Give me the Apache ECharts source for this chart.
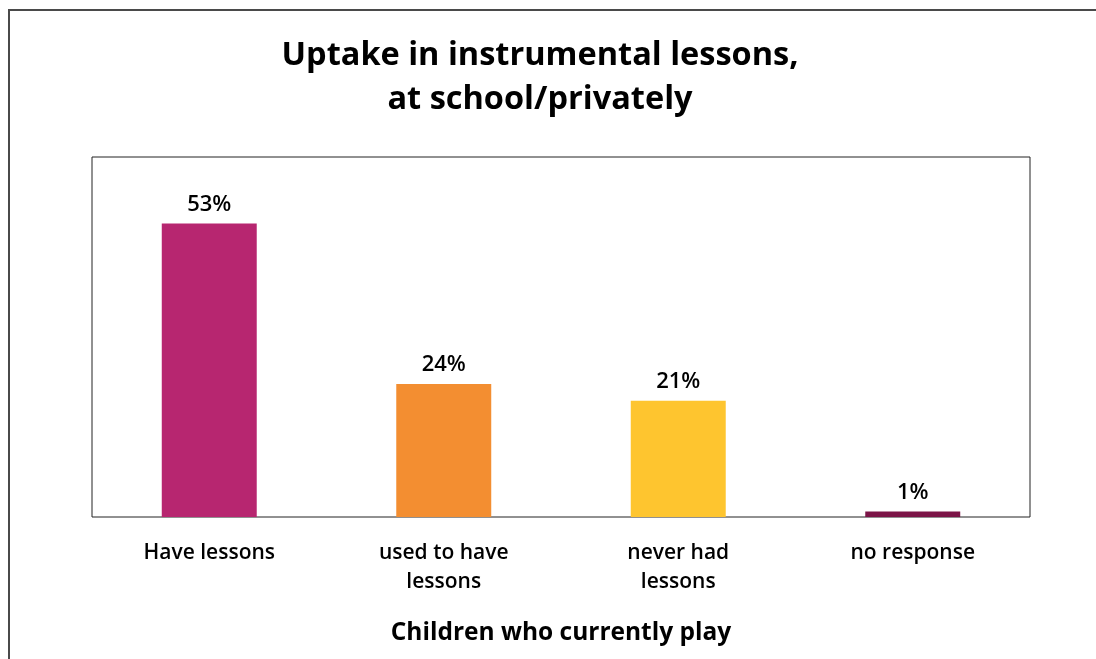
<!DOCTYPE html>
<html><head><meta charset="utf-8">
<script src="https://cdn.jsdelivr.net/npm/echarts@6/dist/echarts.min.js"></script>
<style>html,body{margin:0;padding:0;background:#fff}#c{width:1096px;height:659px}</style>
</head><body><div id="c"></div>
<script>
const categories = ['Have lessons', 'used to have\nlessons', 'never had\nlessons', 'no response'];
const values = [53, 24, 21, 1];
const barColors = ['#B72670', '#F38E31', '#FEC52F', '#7B1447'];
const titleText = 'Uptake in instrumental lessons,\nat school/privately';
const axisTitle = 'Children who currently play';

const chart = echarts.init(document.getElementById('c'), null, {renderer: 'canvas'});
const FONT = 'Open Sans';
chart.setOption({
  animation: false,
  backgroundColor: '#fff',
  title: {
    text: titleText, left: 535, top: 29, textAlign: 'center',
    textStyle: {fontFamily: FONT, fontWeight: 'bold', fontSize: 32.5, color: '#000', lineHeight: 44}
  },
  grid: {left: 92, right: 66, top: 157, bottom: 142, show: true, borderColor: '#222', borderWidth: 1, backgroundColor: 'transparent'},
  xAxis: {
    type: 'category', data: categories,
    name: axisTitle, nameLocation: 'middle', nameGap: 104,
    nameTextStyle: {fontFamily: FONT, fontWeight: 'bold', fontSize: 24.5, color: '#000'},
    axisLine: {show: false}, axisTick: {show: false},
    axisLabel: {fontFamily: FONT, fontWeight: 600, fontSize: 21, color: '#000', margin: 22, lineHeight: 29}
  },
  yAxis: {type: 'value', min: 0, max: 65, show: false, splitLine: {show: false}},
  series: [{
    type: 'bar', barWidth: '40.5%',
    data: values.map((v, i) => ({value: v, itemStyle: {color: barColors[i]}})),
    label: {show: true, position: 'top', distance: 8, formatter: '{c}%',
      fontFamily: FONT, fontWeight: 600, fontSize: 22, color: '#000'}
  }],
  graphic: [{
    type: 'rect', shape: {x: 9, y: 10, width: 1200, height: 800},
    style: {fill: 'none', stroke: '#4a4a4a', lineWidth: 2}, z: 100
  }]
});
</script></body></html>
